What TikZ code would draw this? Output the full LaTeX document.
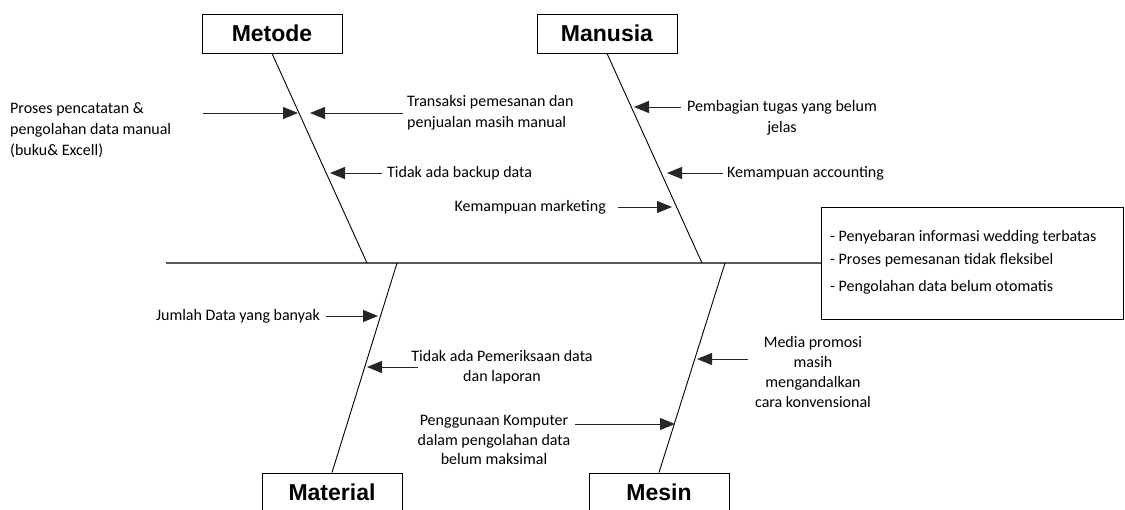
\documentclass[tikz,border=0pt]{standalone}
\usepackage{fontspec}
\setmainfont{Carlito}
\newfontfamily\headfont{Liberation Sans}
\usetikzlibrary{arrows.meta}
\begin{document}
\begin{tikzpicture}[x=1pt,y=-1pt,
  catbox/.style={draw, line width=1pt, minimum width=140pt, minimum height=39pt, inner sep=0pt,
    font=\headfont\bfseries\fontsize{23}{27}\selectfont},
  effbox/.style={draw, line width=1pt, minimum width=302pt, minimum height=112pt, inner sep=0pt},
  bone/.style={line width=0.9pt},
  spineline/.style={line width=1.5pt, draw=black!65},
  cause/.style={line width=1pt, draw=black!85, -{Triangle[length=15pt,width=12pt]}},
  lbl/.style={font=\fontsize{16}{20}\selectfont, inner sep=0pt},
]
\useasboundingbox (0,0) rectangle (1125,509);

% category boxes
\node[catbox] (metode) at (272,33.5) {Metode};
\node[catbox] (manusia) at (607,33.5) {Manusia};
\node[catbox] (material) at (332,492.5) {Material};
\node[catbox] (mesin) at (659,492.5) {Mesin};

% effect box
\node[effbox] (effect) at (972,263) {};
\node[lbl, anchor=west] (e1) at (830,237) {- Penyebaran informasi wedding terbatas};
\node[lbl, anchor=west] (e2) at (830,260) {- Proses pemesanan tidak fleksibel};
\node[lbl, anchor=west] (e3) at (830,287) {- Pengolahan data belum otomatis};

% spine
\coordinate (spinestart) at (166,263);
\draw[spineline] (spinestart) -- (effect.west);

% bones
\coordinate (jMetode) at (367,263);
\coordinate (jManusia) at (702,263);
\coordinate (jMaterial) at (397,263);
\coordinate (jMesin) at (725,263);
\draw[bone] (metode.south) -- (jMetode);
\draw[bone] (manusia.south) -- (jManusia);
\draw[bone] (jMaterial) -- (material.north);
\draw[bone] (jMesin) -- (mesin.north);

% texts
\node[lbl, anchor=west, align=left, font=\fontsize{16}{21}\selectfont] (t1) at (10,130)
  {Proses pencatatan \&\\pengolahan data manual\\(buku\& Excell)};
\node[lbl, anchor=west, align=left, font=\fontsize{16}{21}\selectfont] (t2) at (407,113)
  {Transaksi pemesanan dan\\penjualan masih manual};
\node[lbl, anchor=west] (t3) at (387,173) {Tidak ada backup data};
\node[lbl, anchor=east] (t4) at (606,207) {Kemampuan marketing};
\node[lbl, align=center, font=\fontsize{16}{21}\selectfont] (t5) at (782,118) {Pembagian tugas yang belum\\jelas};
\node[lbl, anchor=west] (t6) at (727,173) {Kemampuan accounting};
\node[lbl, anchor=east] (t7) at (320,316) {Jumlah Data yang banyak};
\node[lbl, align=center] (t8) at (502,367) {Tidak ada Pemeriksaan data\\dan laporan};
\node[lbl, align=center, font=\fontsize{16}{19.5}\selectfont] (t9) at (494,440) {Penggunaan Komputer\\dalam pengolahan data\\belum maksimal};
\node[lbl, align=center] (t10) at (813,372) {Media promosi\\masih\\mengandalkan\\cara konvensional};

% arrow coordinates
\coordinate (a1s) at (203,113); \coordinate (a1e) at (298,113);
\coordinate (a2s) at (403,113); \coordinate (a2e) at (310,113);
\coordinate (a3s) at (382,173); \coordinate (a3e) at (330,173);
\coordinate (a4s) at (618,207); \coordinate (a4e) at (672,207);
\coordinate (a5s) at (681,107); \coordinate (a5e) at (634,107);
\coordinate (a6s) at (723,173); \coordinate (a6e) at (667,173);
\coordinate (b1s) at (326,316); \coordinate (b1e) at (378,316);
\coordinate (b2s) at (418,367); \coordinate (b2e) at (367,367);
\coordinate (b3s) at (575,424); \coordinate (b3e) at (675,424);
\coordinate (b4s) at (748,359); \coordinate (b4e) at (697,359);

\draw[cause] (a1s) -- (a1e);
\draw[cause] (a2s) -- (a2e);
\draw[cause] (a3s) -- (a3e);
\draw[cause] (a4s) -- (a4e);
\draw[cause] (a5s) -- (a5e);
\draw[cause] (a6s) -- (a6e);
\draw[cause] (b1s) -- (b1e);
\draw[cause] (b2s) -- (b2e);
\draw[cause] (b3s) -- (b3e);
\draw[cause] (b4s) -- (b4e);
\end{tikzpicture}
\end{document}
